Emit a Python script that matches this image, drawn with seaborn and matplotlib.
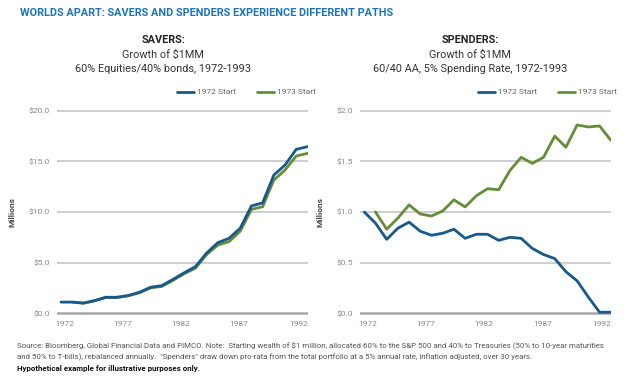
import numpy as np
import pandas as pd
import matplotlib
matplotlib.use('Agg')
import matplotlib.pyplot as plt
import seaborn as sns

# --- data (values in $ millions) ---
savers_1972 = [1.1, 1.1, 1.0, 1.25, 1.58, 1.58, 1.75, 2.07, 2.57, 2.73, 3.35, 4.0,
               4.6, 5.95, 6.97, 7.4, 8.4, 10.6, 10.9, 13.65, 14.64, 16.19, 16.45]
savers_1973 = [1.1, 1.0, 1.22, 1.55, 1.55, 1.72, 2.02, 2.5, 2.65, 3.25, 3.9,
               4.45, 5.8, 6.74, 7.07, 8.1, 10.26, 10.52, 13.16, 14.15, 15.53, 15.79]
spenders_1972 = [1.00, 0.89, 0.73, 0.84, 0.90, 0.81, 0.77, 0.79, 0.83, 0.74, 0.78, 0.78,
                 0.72, 0.75, 0.74, 0.64, 0.58, 0.54, 0.41, 0.32, 0.16, 0.01, 0.01]
spenders_1973 = [1.00, 0.83, 0.94, 1.07, 0.98, 0.96, 1.01, 1.12, 1.05, 1.16, 1.23,
                 1.22, 1.41, 1.54, 1.48, 1.54, 1.75, 1.64, 1.86, 1.84, 1.85, 1.71]
year_labels = ['1972', '1977', '1982', '1987', '1992']
series_names = ['1972 Start', '1973 Start']

BLUE = '#17598a'
GREEN = '#658c36'
GRID = '#cdcdd2'
TICK = '#8a8a8e'

sns.set_theme(style='white')
plt.rcParams['font.family'] = ['Roboto', 'DejaVu Sans']


def make_frame(a, b):
    d1 = pd.DataFrame({'step': np.arange(len(a)), 'value': a, 'series': series_names[0]})
    d2 = pd.DataFrame({'step': np.arange(len(b)) + 1, 'value': b, 'series': series_names[1]})
    return pd.concat([d2, d1], ignore_index=True)


fig = plt.figure(figsize=(6.24, 3.9), dpi=100)

W, H = 624, 390


def add_ax(x0, x1, y0, y1):
    return fig.add_axes([x0 / W, 1 - y1 / H, (x1 - x0) / W, (y1 - y0) / H])


ax1 = add_ax(56.5, 308, 106.7, 317.3)
ax2 = add_ax(359.8, 611.3, 106.7, 317.3)

panels = [
    (ax1, make_frame(savers_1972, savers_1973), 20.0, 5.0,
     ['SAVERS:', 'Growth of $1MM', '60% Equities/40% bonds, 1972-1993'], 163),
    (ax2, make_frame(spenders_1972, spenders_1973), 2.0, 0.5,
     ['SPENDERS:', 'Growth of $1MM', '60/40 AA, 5% Spending Rate, 1972-1993'], 470),
]

for ax, df, top, step, heads, cx in panels:
    sns.lineplot(data=df, x='step', y='value', hue='series',
                 hue_order=series_names[::-1], palette=[GREEN, BLUE],
                 linewidth=2.0, ax=ax, legend=False, sort=False)
    # 1972 line on top
    ax.lines[1].set_zorder(4)
    ticks = np.arange(0, top + step / 2, step)
    pad = top * 0.02
    ax.set_ylim(-pad, top + pad)
    ax.set_xlim(-0.4, 22.05)
    for t in ticks[1:]:
        ax.axhline(t, color=GRID, lw=1.4, zorder=0)
    ax.axhline(0, color='#a6a6aa', lw=1.8, zorder=1)
    ax.set_yticks(ticks)
    ax.set_yticklabels(['${:.1f}'.format(t) for t in ticks], color=TICK, fontsize=6)
    ax.set_xticks([0.3, 5.5, 10.7, 15.9, 21.2])
    ax.set_xticklabels(year_labels, color=TICK, fontsize=6)
    ax.tick_params(axis='both', length=0, pad=3)
    ax.tick_params(axis='y', pad=5)
    ax.set_xlabel('')
    ax.set_ylabel('Millions', fontsize=6, color='#444444', fontweight='bold', labelpad=9)
    for s in ax.spines.values():
        s.set_visible(False)

    fig.text(cx / W, 1 - 40 / H, heads[0], ha='center', va='center',
             fontsize=7.8, fontweight='bold', color='#222222')
    fig.text(cx / W, 1 - 55 / H, heads[1], ha='center', va='center',
             fontsize=7.8, color='#333333')
    fig.text(cx / W, 1 - 69 / H, heads[2], ha='center', va='center',
             fontsize=7.8, color='#333333')

# legends drawn as figure elements
for lx in (177, 478):
    for k, (name, col) in enumerate(zip(series_names, [BLUE, GREEN])):
        x0 = lx + k * 80
        fig.add_artist(plt.Line2D([x0 / W, (x0 + 17) / W], [1 - 92 / H, 1 - 92 / H],
                                  color=col, lw=2.0))
        fig.text((x0 + 20) / W, 1 - 92 / H, name, ha='left', va='center',
                 fontsize=6, color='#666666')

fig.text(20 / W, 1 - 13 / H, 'WORLDS APART: SAVERS AND SPENDERS EXPERIENCE DIFFERENT PATHS',
         ha='left', va='center', fontsize=7.8, fontweight='bold', color='#1b72bd')

foot1 = ('Source: Bloomberg, Global Financial Data and PIMCO. Note:  Starting wealth of $1 million, '
         'allocated 60% to the S&P 500 and 40% to Treasuries (50% to 10-year maturities')
foot2 = ('and 50% to T-bills), rebalanced annually.  "Spenders" draw down pro-rata from the total '
         'portfolio at a 5% annual rate, inflation adjusted, over 30 years.')
fig.text(17 / W, 1 - 346 / H, foot1, ha='left', va='center', fontsize=5.7, color='#555555')
fig.text(17 / W, 1 - 357 / H, foot2, ha='left', va='center', fontsize=5.7, color='#555555')
fig.text(17 / W, 1 - 368 / H, 'Hypothetical example for illustrative purposes only.',
         ha='left', va='center', fontsize=5.7, fontweight='bold', color='#111111')

fig.savefig('out.png', dpi=100)
